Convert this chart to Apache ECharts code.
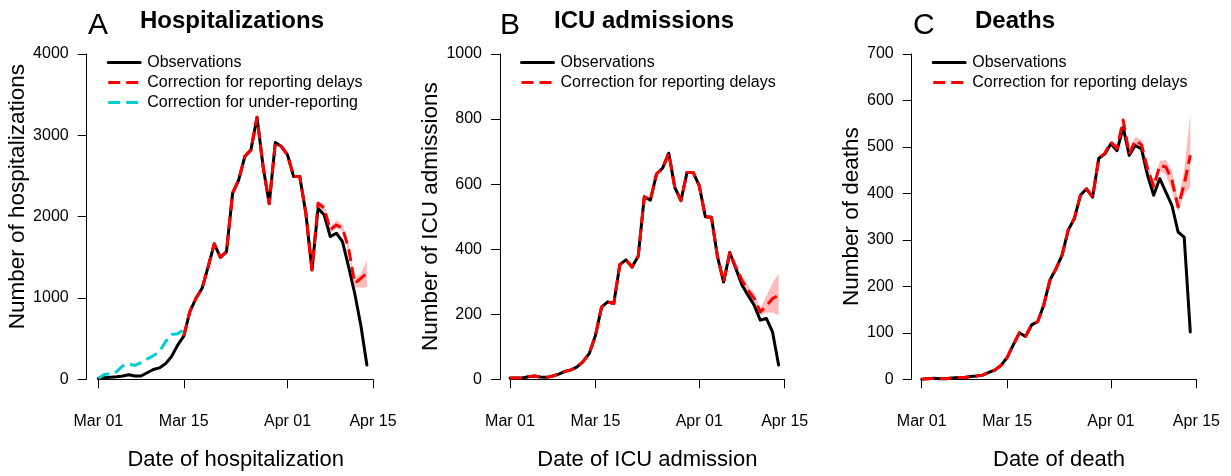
<!DOCTYPE html>
<html>
<head>
<meta charset="utf-8">
<script src="https://cdn.jsdelivr.net/npm/echarts@6/dist/echarts.min.js"></script>
<style>
  html, body { margin: 0; padding: 0; background: #fff; }
  #chart { width: 1231px; height: 476px; }
</style>
</head>
<body>
<div id="chart"></div>
<script>
// Daily counts, 1 March to 14 April (45 days); null = not drawn.
const tickLabels = ['Mar 01', 'Mar 15', 'Apr 01', 'Apr 15'];
const tickDays = [0, 14, 31, 45];

// Panel A: hospitalizations
const hospObserved = [10, 20, 25, 30, 40, 55, 40, 40, 80, 120, 140, 190, 280, 420, 530,
  832, 996, 1119, 1386, 1665, 1500, 1570, 2288, 2452, 2739, 2821, 3223, 2614, 2160, 2911,
  2862, 2759, 2493, 2493, 2042, 1345, 2103, 2021, 1755, 1796, 1693, 1386, 1058, 668, 176];
const hospDelay = [null, null, null, null, null, null, null, null, null, null, null, null, null, null, 530,
  832, 996, 1119, 1386, 1665, 1500, 1570, 2288, 2452, 2739, 2821, 3223, 2614, 2160, 2911,
  2862, 2759, 2493, 2493, 2042, 1345, 2165, 2107, 1837, 1898, 1857, 1611, 1181, 1242, 1304];
const hospUnder = [12, 60, 65, 95, 165, 190, 170, 205, 250, 290, 340, 460, 550, 560, 610];
const hospLow = [2120, 2060, 1800, 1860, 1820, 1560, 1130, 1130, 1130];   // days 36-44
const hospHigh = [2200, 2150, 1880, 1960, 1900, 1660, 1230, 1300, 1460];

// Panel B: ICU admissions
const icuObserved = [4, 4, 4, 8, 10, 7, 6, 10, 16, 24, 29, 38, 55, 80, 135,
  222, 238, 233, 353, 367, 345, 378, 561, 551, 631, 649, 695, 590, 549, 636,
  636, 595, 500, 498, 376, 299, 390, 340, 290, 258, 228, 182, 187, 146, 44];
const icuDelay = [4, 4, 4, 8, 10, 7, 6, 10, 16, 24, 29, 38, 55, 80, 135,
  222, 238, 233, 353, 367, 345, 378, 561, 551, 631, 649, 695, 590, 549, 636,
  636, 595, 500, 498, 376, 299, 390, 345, 304, 273, 249, 207, 226, 248, 258];
const icuLow = [385, 335, 292, 262, 236, 198, 205, 205, 197];   // days 36-44
const icuHigh = [400, 352, 318, 288, 265, 218, 255, 295, 325];

// Panel C: deaths
const deathObserved = [0, 1, 2, 1, 1, 3, 4, 4, 6, 7, 9, 15, 20, 30, 47,
  74, 100, 92, 117, 124, 160, 213, 238, 267, 321, 346, 396, 410, 392, 475,
  485, 507, 492, 542, 482, 503, 496, 439, 396, 432, 403, 374, 317, 306, 102];
const deathDelay = [0, 1, 2, 1, 1, 3, 4, 4, 6, 7, 9, 15, 20, 30, 47,
  74, 100, 92, 117, 124, 160, 213, 238, 267, 321, 346, 396, 410, 392, 475,
  487, 510, 497, 558, 485, 514, 505, 453, 415, 460, 457, 428, 371, 420, 482];
const deathLow = [483, 505, 490, 552, 480, 505, 495, 445, 405, 448, 440, 405, 360, 398, 414];   // days 30-44
const deathHigh = [490, 515, 505, 565, 492, 522, 515, 465, 425, 470, 472, 448, 385, 450, 571];

// Category axis: every day from 1 March to 15 April
const monthNames = ['Mar', 'Apr'];
const monthDays = [31, 15];
const categories = [];
monthNames.forEach((m, mi) => {
  for (let d = 1; d <= monthDays[mi]; d++) categories.push(m + ' ' + String(d).padStart(2, '0'));
});

const FONT = 'Liberation Sans, Arial, Helvetica, sans-serif';
const RED = '#FF0000';
const CYAN = '#00CDCD';
const BAND = 'rgba(255, 0, 0, 0.27)';

// Pad a partial series that starts at a given day
function fromDay(start, arr) {
  const out = new Array(start).fill(null);
  return out.concat(arr);
}
function diff(hi, lo) { return hi.map((v, i) => v - lo[i]); }

const panels = [
  { left: 98.3, yOff: 11.6, max: 4000, step: 1000, yShift: 40,
    xName: 'Date of hospitalization', yName: 'Number of hospitalizations',
    obs: hospObserved, delay: hospDelay, under: hospUnder,
    bandStart: 36, low: hospLow, high: hospHigh },
  { left: 510, yOff: 10, max: 1000, step: 200, yShift: 0,
    xName: 'Date of ICU admission', yName: 'Number of ICU admissions',
    obs: icuObserved, delay: icuDelay,
    bandStart: 36, low: icuLow, high: icuHigh },
  { left: 921.7, yOff: 10, max: 700, step: 100, yShift: 0,
    xName: 'Date of death', yName: 'Number of deaths',
    obs: deathObserved, delay: deathDelay,
    bandStart: 30, low: deathLow, high: deathHigh }
];

const grids = [], xAxes = [], yAxes = [], series = [], legends = [];
const isTick = (i) => tickDays.indexOf(i) >= 0;

panels.forEach((p, k) => {
  grids.push({ left: p.left, top: 54, width: 274.7, height: 325.3, containLabel: false });
  xAxes.push({
    gridIndex: k, type: 'category', data: categories, boundaryGap: false, offset: 12.7,
    axisLine: { lineStyle: { color: '#000', width: 1 } },
    axisTick: { interval: isTick, length: 9, lineStyle: { color: '#000' } },
    axisLabel: { interval: isTick, color: '#000', fontSize: 16, fontFamily: FONT, margin: 22 },
    splitLine: { show: false },
    name: p.xName, nameLocation: 'middle', nameGap: 57,
    nameTextStyle: { color: '#000', fontSize: 22, fontFamily: FONT }
  });
  yAxes.push({
    gridIndex: k, type: 'value', min: 0, max: p.max, interval: p.step, offset: p.yOff,
    axisLine: { show: true, lineStyle: { color: '#000', width: 1 } },
    axisTick: { show: true, length: 9, lineStyle: { color: '#000' } },
    axisLabel: { color: '#000', fontSize: 16, fontFamily: FONT, margin: 18,
      formatter: (v) => String(v) },
    splitLine: { show: false },
    name: p.yName, nameLocation: 'middle', nameGap: 47,
    nameTextStyle: { color: '#000', fontSize: 22.5, fontFamily: FONT,
      padding: [0, 0, 0, p.yShift] }
  });

  const stackId = 'band' + k;
  series.push({
    name: 'band-low-' + k, type: 'line', xAxisIndex: k, yAxisIndex: k, stack: stackId,
    data: fromDay(p.bandStart, p.low), symbol: 'none', silent: true,
    lineStyle: { opacity: 0, width: 0 }
  });
  series.push({
    name: 'band-width-' + k, type: 'line', xAxisIndex: k, yAxisIndex: k, stack: stackId,
    data: fromDay(p.bandStart, diff(p.high, p.low)), symbol: 'none', silent: true,
    lineStyle: { opacity: 0, width: 0 }, areaStyle: { color: BAND, opacity: 1 }
  });
  series.push({
    name: 'Observations', type: 'line', xAxisIndex: k, yAxisIndex: k,
    data: p.obs, symbol: 'none', silent: true,
    lineStyle: { color: '#000', width: 3, join: 'round', cap: 'round' }, itemStyle: { color: '#000' }
  });
  series.push({
    name: 'Correction for reporting delays', type: 'line', xAxisIndex: k, yAxisIndex: k,
    data: p.delay, symbol: 'none', silent: true,
    lineStyle: { color: RED, width: 3, type: [12, 6], join: 'round' }, itemStyle: { color: RED }
  });
  const legendData = ['Observations', 'Correction for reporting delays'];
  if (p.under) {
    series.push({
      name: 'Correction for under-reporting', type: 'line', xAxisIndex: k, yAxisIndex: k,
      data: p.under, symbol: 'none', silent: true,
      lineStyle: { color: CYAN, width: 3, type: [12, 6], join: 'round' }, itemStyle: { color: CYAN }
    });
    legendData.push('Correction for under-reporting');
  }
  legends.push({
    orient: 'vertical', left: p.left - p.yOff + 15, top: 49.5, data: legendData,
    itemWidth: 32, itemHeight: 12, itemGap: 4, selectedMode: false,
    itemStyle: { opacity: 0, borderWidth: 0 },
    lineStyle: { width: 3 },
    textStyle: { color: '#000', fontSize: 16, fontFamily: FONT, lineHeight: 16, padding: [0, 0, 0, 2] }
  });
});

// Panel letters and titles
const titles = [
  { letter: 'A', lx: 88, text: 'Hospitalizations', tx: 140 },
  { letter: 'B', lx: 500, text: 'ICU admissions', tx: 554 },
  { letter: 'C', lx: 913, text: 'Deaths', tx: 975 }
];
const graphics = [];
titles.forEach(t => {
  graphics.push({ type: 'text', left: t.lx, top: 11,
    style: { text: t.letter, fontSize: 30, fontFamily: FONT, fill: '#000' } });
  graphics.push({ type: 'text', left: t.tx, top: 9,
    style: { text: t.text, fontSize: 24, fontWeight: 'bold', fontFamily: FONT, fill: '#000' } });
});

const chart = echarts.init(document.getElementById('chart'), null, { renderer: 'canvas' });
chart.setOption({
  animation: false,
  backgroundColor: '#fff',
  textStyle: { fontFamily: FONT },
  grid: grids, xAxis: xAxes, yAxis: yAxes, series: series,
  legend: legends, graphic: graphics
});
</script>
</body>
</html>
